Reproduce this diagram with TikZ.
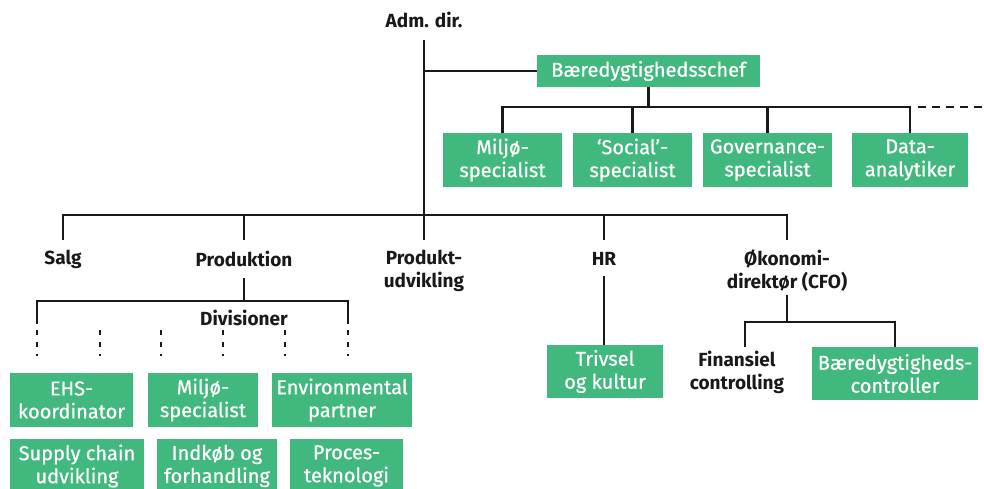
\documentclass[tikz,border=0pt]{standalone}
\usepackage{fontspec}
\setmainfont{Fira Sans}
\newfontfamily\gfont{Fira Sans}[FakeBold=0.8]
\definecolor{gr}{RGB}{64,184,126}
\definecolor{ln}{RGB}{25,25,25}
\begin{document}
\begin{tikzpicture}[x=1pt,y=-1pt,
  gbox/.style={rectangle, fill=gr, text=white, inner sep=0pt, align=center,
    font=\gfont\fontsize{20}{23}\selectfont},
  lbl/.style={inner sep=0pt, align=center, text=ln, font=\bfseries\fontsize{19}{23}\selectfont},
  conn/.style={draw=ln, line width=2.4pt},
  dotln/.style={draw=ln, line width=2.4pt, dash pattern=on 5pt off 7pt},
  dashln/.style={draw=ln, line width=2.4pt, dash pattern=on 8pt off 6pt}]
\path[use as bounding box] (0,0) rectangle (984,489);
% top
\node[lbl] (adm) at (424,20) {Adm. dir.};
\node[gbox, minimum width=223pt, minimum height=32pt] (bchef) at (648.5,71) {Bæredygtighedsschef};
\node[gbox, minimum width=119pt, minimum height=54pt] (miljoA) at (502.5,160) {Miljø-\\specialist};
\node[gbox, minimum width=119pt, minimum height=54pt] (social) at (632.5,160) {‘Social’-\\specialist};
\node[gbox, minimum width=129pt, minimum height=54pt] (gov) at (767.5,160) {Governance-\\specialist};
\node[gbox, minimum width=116pt, minimum height=54pt] (data) at (910,160) {Data-\\analytiker};
\coordinate (top) at (424,40);
\coordinate (hub) at (424,215);
\coordinate (bsplit) at (648.5,107);
\coordinate (dashend) at (984,107);
\draw[conn] (top) -- (hub);
\draw[conn] (top |- bchef) -- (bchef.west);
\draw[conn] (bchef.south) -- (bsplit);
\draw[conn] (miljoA.north) |- (bsplit);
\draw[conn] (social.north) |- (bsplit);
\draw[conn] (gov.north) |- (bsplit);
\draw[conn] (data.north) |- (bsplit);
\draw[dashln] ([xshift=8pt]data.north |- bsplit) -- (dashend);
% departments
\node[lbl] (salg) at (63,259) {Salg};
\node[lbl] (prod) at (244,259) {Produktion};
\node[lbl] (pudv) at (424,270.5) {Produkt-\\udvikling};
\node[lbl] (hr) at (604,259) {HR};
\node[lbl] (cfo) at (787,270.5) {Økonomi-\\direktør (CFO)};
\coordinate (d1) at (63,240);
\coordinate (d2) at (244,240);
\coordinate (d3) at (424,240);
\coordinate (d4) at (604,240);
\coordinate (d5) at (787,240);
\draw[conn] (d1) |- (d5 |- hub) -- (d5);
\draw[conn] (d2 |- hub) -- (d2);
\draw[conn] (hub) -- (d3);
\draw[conn] (d4 |- hub) -- (d4);
% Produktion subtree
\coordinate (p1) at (244,278);
\coordinate (psplit) at (244,301);
\coordinate (pl) at (37,324);
\coordinate (pr) at (348,324);
\draw[conn] (p1) -- (psplit);
\draw[conn] (pl) |- (psplit) -| (pr);
\node[lbl] (div) at (244,318) {Divisioner};
\foreach \i/\x in {1/37,2/100,3/161,4/223,5/285,6/348}{
  \coordinate (dt\i) at (\x,330);
  \coordinate (db\i) at (\x,356);
  \draw[dotln] (dt\i) -- (db\i);
}
\node[gbox, minimum width=123pt, minimum height=54pt] (ehs) at (71.5,400) {EHS-\\koordinator};
\node[gbox, minimum width=110pt, minimum height=54pt] (miljoB) at (203,400) {Miljø-\\specialist};
\node[gbox, minimum width=140pt, minimum height=54pt] (env) at (342,400) {Environmental\\partner};
\node[gbox, minimum width=134pt, minimum height=54pt] (supply) at (77,466) {Supply chain\\udvikling};
\node[gbox, minimum width=120pt, minimum height=54pt] (indkob) at (217,466) {Indkøb og\\forhandling};
\node[gbox, minimum width=113pt, minimum height=54pt] (proces) at (346.5,466) {Proces-\\teknologi};
% HR subtree
\node[gbox, minimum width=116pt, minimum height=53pt] (trivsel) at (605,371.5) {Trivsel\\og kultur};
\coordinate (h1) at (604,276);
\draw[conn] (h1) -- (h1 |- trivsel.north);
% CFO subtree
\coordinate (c1) at (787,295);
\coordinate (csplit) at (787,322);
\node[lbl] (fin) at (737,372.5) {Finansiel\\controlling};
\node[gbox, minimum width=166pt, minimum height=53pt] (bctrl) at (895,373.5) {Bæredygtigheds-\\controller};
\coordinate (cl) at (745,347);
\draw[conn] (c1) -- (csplit);
\draw[conn] (cl) |- (csplit) -| (bctrl.north);
\end{tikzpicture}
\end{document}
